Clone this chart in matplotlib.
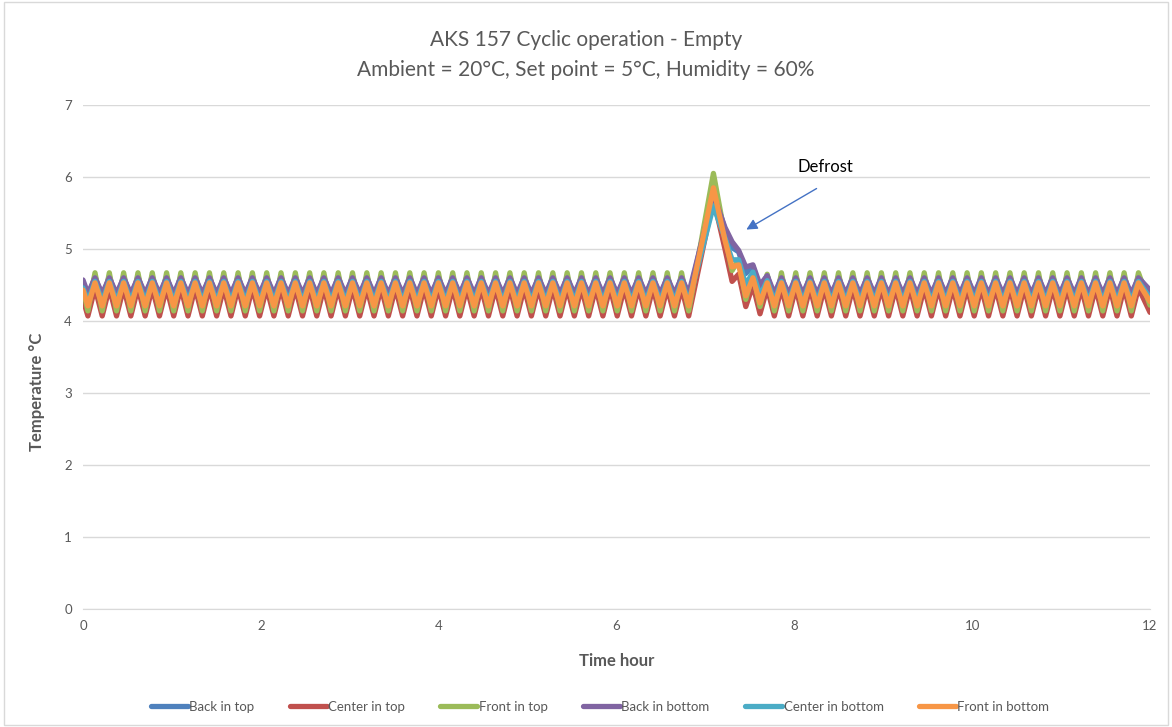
import matplotlib
matplotlib.use("Agg")
import matplotlib.pyplot as plt
from matplotlib.patches import Rectangle

# ---------------- data ----------------
series_names = ["Back in top", "Center in top", "Front in top",
                "Back in bottom", "Center in bottom", "Front in bottom"]
colors = ["#4F81BD", "#C0504D", "#9BBB59", "#8064A2", "#4BACC6", "#F79646"]

# times (hours) of the oscillation peaks before and after the defrost
pre_peak_times = [0.135, 0.296, 0.457, 0.618, 0.779, 0.940, 1.100, 1.261, 1.422,
                  1.583, 1.744, 1.905, 2.066, 2.227, 2.388, 2.549, 2.709, 2.870,
                  3.031, 3.192, 3.353, 3.514, 3.675, 3.836, 3.997, 4.158, 4.318,
                  4.479, 4.640, 4.801, 4.962, 5.123, 5.284, 5.445, 5.606, 5.767,
                  5.927, 6.088, 6.249, 6.410, 6.571, 6.732]
post_peak_times = [7.855, 8.016, 8.176, 8.337, 8.497, 8.658, 8.819, 8.979, 9.140,
                   9.300, 9.461, 9.622, 9.782, 9.943, 10.103, 10.264, 10.425,
                   10.585, 10.746, 10.906, 11.067, 11.228, 11.388, 11.549, 11.709,
                   11.870]
trough_offset = 0.08   # trough lies half a cycle before each peak

# regular cycling levels (peak, trough) per series, °C
peak_levels = [4.62, 4.46, 4.67, 4.60, 4.55, 4.53]
trough_levels = [4.32, 4.07, 4.14, 4.38, 4.27, 4.21]
start_values = [4.52, 4.30, 4.45, 4.57, 4.46, 4.43]
end_values = [4.38, 4.12, 4.22, 4.43, 4.32, 4.27]

# defrost segment turning points
defrost_times = [6.812, 7.09, 7.22, 7.30, 7.374, 7.454, 7.534, 7.614, 7.695]
defrost_values = [
    [4.32, 5.80, 5.27, 5.02, 4.96, 4.66, 4.76, 4.46, 4.63],   # Back in top
    [4.07, 5.70, 5.00, 4.55, 4.65, 4.20, 4.50, 4.10, 4.46],   # Center in top
    [4.14, 6.05, 5.18, 4.70, 4.85, 4.30, 4.66, 4.20, 4.65],   # Front in top
    [4.38, 5.75, 5.30, 5.10, 4.98, 4.75, 4.78, 4.50, 4.63],   # Back in bottom
    [4.27, 5.60, 5.15, 4.85, 4.85, 4.50, 4.68, 4.35, 4.56],   # Center in bottom
    [4.21, 5.85, 5.12, 4.75, 4.78, 4.35, 4.60, 4.25, 4.53],   # Front in bottom
]

x_ticks = [0, 2, 4, 6, 8, 10, 12]
y_ticks = [0, 1, 2, 3, 4, 5, 6, 7]

# ---------------- build the curves ----------------
def build(i):
    t, v = [0.0], [start_values[i]]
    for p in pre_peak_times:
        t += [p - trough_offset, p]
        v += [trough_levels[i], peak_levels[i]]
    t += defrost_times
    v += defrost_values[i]
    for p in post_peak_times:
        t += [p - trough_offset, p]
        v += [trough_levels[i], peak_levels[i]]
    t += [12.0]
    v += [end_values[i]]
    return t, v

# ---------------- figure ----------------
plt.rcParams['font.family'] = ['Lato', 'DejaVu Sans']
fig = plt.figure(figsize=(11.72, 7.27), dpi=100)
ax = fig.add_axes([83/1172, 1-609/727, (1150-83)/1172, (609-105)/727])

txt = "#595959"
for i, name in enumerate(series_names):
    t, v = build(i)
    ax.plot(t, v, color=colors[i], lw=3.8, label=name,
            solid_joinstyle='round', solid_capstyle='round')

ax.set_xlim(0, 12)
ax.set_ylim(0, 7)
ax.set_xticks(x_ticks)
ax.set_yticks(y_ticks)
ax.tick_params(length=0, labelsize=9.5, colors=txt, pad=8)
ax.grid(axis='y', color="#D9D9D9", lw=1)
ax.set_axisbelow(True)
for s in ["top", "right", "left"]:
    ax.spines[s].set_visible(False)
ax.spines["bottom"].set_color("#D9D9D9")

ax.set_xlabel("Time hour", fontsize=12, fontweight='bold', color=txt, labelpad=15)
ax.set_ylabel("Temperature °C", fontsize=12, fontweight='bold', color=txt)
ax.yaxis.set_label_coords(-0.0356, 0.43)

fig.text(0.5, 1-40/727, "AKS 157 Cyclic operation - Empty", ha='center', va='center',
         fontsize=15, color=txt)
fig.text(0.5, 1-70/727, "Ambient = 20°C, Set point = 5°C, Humidity = 60%", ha='center',
         va='center', fontsize=15, color=txt)

ax.annotate("", xy=(7.46, 5.27), xytext=(8.25, 5.84),
            arrowprops=dict(arrowstyle="-|>", color="#4472C4", lw=1, mutation_scale=16,
                            shrinkA=0, shrinkB=0))
ax.text(8.04, 6.14, "Defrost", fontsize=12, color="#000000", va='center')

leg = fig.legend(loc='center', bbox_to_anchor=(0.512, 1-707/727), ncol=6, frameon=False,
                 fontsize=9.5, handlelength=2.8, columnspacing=2.7, handletextpad=0.1,
                 labelcolor=txt)

fig.patches.append(Rectangle((4/1172, 2/727), 1-8/1172, 1-4/727, transform=fig.transFigure,
                             fill=False, edgecolor="#D9D9D9", lw=1))

fig.savefig("out.png", dpi=100)
